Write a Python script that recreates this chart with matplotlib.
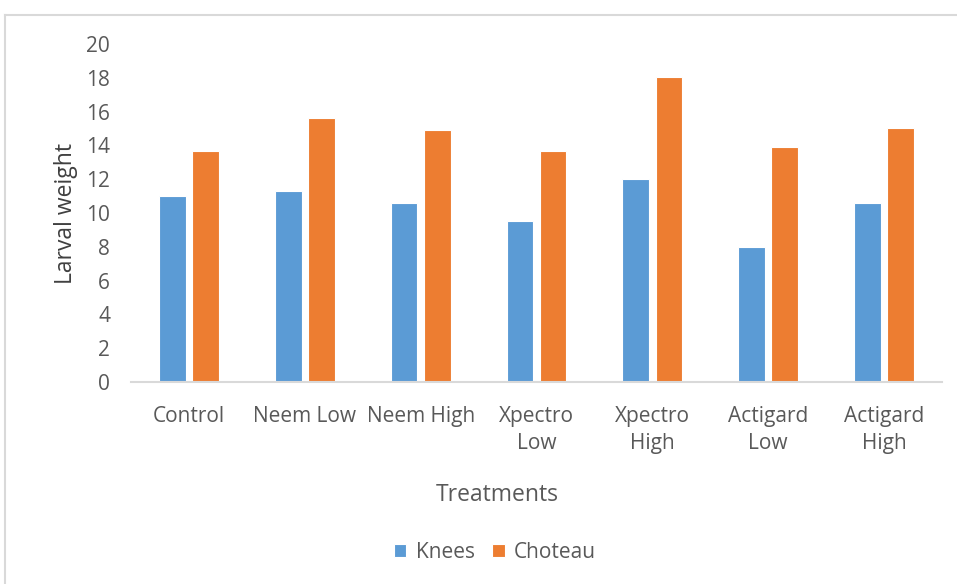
import matplotlib.pyplot as plt
import numpy as np

treatments = ['Control', 'Neem Low', 'Neem High', 'Xpectro\nLow',
              'Xpectro\nHigh', 'Actigard\nLow', 'Actigard\nHigh']
knees = [11.0, 11.3, 10.6, 9.5, 12.0, 8.0, 10.6]
choteau = [13.65, 15.6, 14.9, 13.65, 18.05, 13.9, 15.0]
yticks = list(range(0, 21, 2))

blue = '#5B9BD5'
orange = '#ED7D31'
text_gray = '#595959'

plt.rcParams['font.family'] = ['Open Sans', 'DejaVu Sans']

fig = plt.figure(figsize=(9.57, 5.84), dpi=100)
W, H = 957, 584
ax = fig.add_axes([131 / W, 1 - 382 / H, (942 - 131) / W, (382 - 44) / H])

x = np.arange(len(treatments))
w = 0.23
ax.bar(x - 0.143, knees, w, color=blue, edgecolor='white', linewidth=0.8, label='Knees')
ax.bar(x + 0.143, choteau, w, color=orange, edgecolor='white', linewidth=0.8, label='Choteau')

ax.set_xlim(-0.5, len(treatments) - 0.5)
ax.set_ylim(0, 20)
ax.set_yticks(yticks)
ax.set_xticks(x)
ax.set_xticklabels(treatments, linespacing=1.42)
ax.tick_params(axis='both', length=0, labelsize=15, colors=text_gray)
ax.tick_params(axis='x', pad=17)
ax.tick_params(axis='y', pad=15)

for side in ['top', 'right', 'left']:
    ax.spines[side].set_visible(False)
ax.spines['bottom'].set_color('#D9D9D9')
ax.spines['bottom'].set_linewidth(1.5)

ax.set_ylabel('Larval weight', fontsize=16.5, color='#404040', labelpad=6)
fig.text(497 / W, 1 - 495 / H, 'Treatments', fontsize=16.5, color=text_gray,
         ha='center', va='center')

fig.legend(loc='center', bbox_to_anchor=(495 / W, 1 - 552 / H), ncol=2,
           frameon=False, fontsize=15, labelcolor=text_gray,
           handlelength=0.6, handleheight=0.6, handletextpad=0.45, columnspacing=0.85)

# chart-area border
fig.add_artist(plt.Line2D([5 / W, 1], [1 - 15 / H, 1 - 15 / H], color='#D9D9D9', lw=1.5))
fig.add_artist(plt.Line2D([5 / W, 5 / W], [0, 1 - 15 / H], color='#D9D9D9', lw=1.5))

fig.savefig('out.png', dpi=100)
